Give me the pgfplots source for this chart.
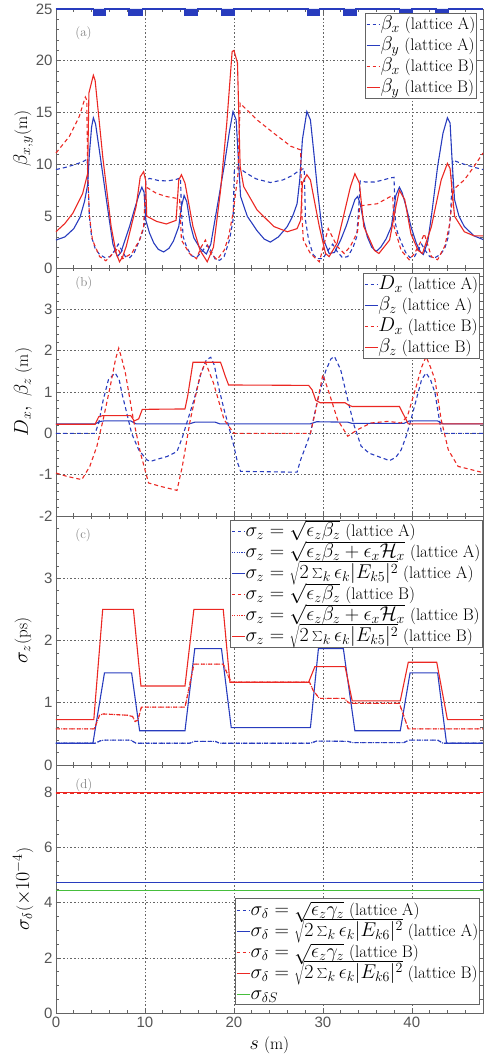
\RequirePackage{fix-cm}
\documentclass[border=0pt]{standalone}
\usepackage{fontspec}
\setsansfont{Liberation Sans}
\usepackage{pgfplots}
\pgfplotsset{compat=1.18}

\definecolor{mblue}{RGB}{40,60,190}
\definecolor{mred}{RGB}{235,40,35}
\definecolor{mgreen}{RGB}{70,190,60}
\definecolor{axgray}{RGB}{100,100,100}
\definecolor{tickgray}{RGB}{85,85,85}

% math in legends and labels is set larger than the surrounding text
\newcommand{\lm}[1]{{\fontsize{20}{22}\selectfont$#1$}}
\newcommand{\sm}[1]{\smash{\fontsize{20}{22}\selectfont$#1$}}
% one legend row: room for the line sample, then the text
\newcommand{\Lrow}[1]{\hspace{13pt} & \rule[-5pt]{0pt}{21pt}\hspace{0.5pt}#1\\}
\newenvironment{Ltab}{\renewcommand{\arraystretch}{0}\begin{tabular}{@{}l@{}l@{}}}{\end{tabular}}
% line sample of row #2 (counted from 0) in legend node #3
\newcommand{\Lline}[3]{\draw[#1] ([xshift=1.5pt, yshift=-11.65pt-#2*21pt]#3.north west) -- ++(13pt,0pt);}

\tikzset{
  tag/.style={font=\fontsize{13}{15}\selectfont, text=gray, anchor=west},
  legbox/.style={draw=axgray, line width=0.6pt, fill=white, inner xsep=1.5pt, inner ysep=0.5pt,
    font=\fontsize{16.8}{18}\selectfont},
  LsA/.style={mblue, line width=1.1pt},
  LdA/.style={mblue, line width=1.1pt, dash pattern=on 3.5pt off 2.5pt},
  LoA/.style={mblue, line width=1.1pt, dash pattern=on 1.1pt off 1.3pt},
  LsB/.style={mred, line width=1.1pt},
  LdB/.style={mred, line width=1.1pt, dash pattern=on 3.5pt off 2.5pt},
  LoB/.style={mred, line width=1.1pt, dash pattern=on 1.1pt off 1.3pt},
  LsG/.style={mgreen, line width=1.1pt},
}

\pgfplotsset{
  sA/.style={color=mblue, line width=1.1pt, solid},
  dA/.style={color=mblue, line width=1.1pt, dash pattern=on 4pt off 3pt},
  oA/.style={color=mblue, line width=1.1pt, dash pattern=on 1pt off 1.6pt},
  sB/.style={color=mred, line width=1.1pt, solid},
  dB/.style={color=mred, line width=1.1pt, dash pattern=on 4pt off 3pt},
  oB/.style={color=mred, line width=1.1pt, dash pattern=on 1pt off 1.6pt},
  sG/.style={color=mgreen, line width=1.1pt, solid},
  panel/.style={
    scale only axis, width=427pt,
    xmin=0, xmax=48,
    xtick={0,10,20,30,40},
    minor xtick={2,4,6,8,12,14,16,18,22,24,26,28,32,34,36,38,42,44,46},
    tick align=inside, major tick length=5pt, minor tick length=3pt,
    xmajorgrids, ymajorgrids,
    major grid style={black!60, dash pattern=on 1.6pt off 2pt, line width=0.6pt},
    axis line style={axgray, line width=0.6pt},
    tick style={axgray, line width=0.6pt},
    tick label style={font=\fontsize{15}{18}\selectfont\sffamily, text=tickgray},
    /pgf/number format/assume math mode=true,
    ylabel style={font=\fontsize{17}{19}\selectfont, at={(axis description cs:-0.077,0.5)}, anchor=center},
  },
}

\begin{document}
\begin{tikzpicture}
\useasboundingbox (-56pt,9pt) rectangle (428pt,-1048pt);

% ---------------- (a) beta functions ----------------
\begin{axis}[panel, at={(0pt,0pt)}, anchor=north west, height=259pt,
  ymin=0, ymax=25, ytick={0,5,...,25}, minor ytick={1,...,24},
  xticklabels={}, ylabel={\lm{\beta_{x,y}}(m)}, clip=false]
% magnet layout along the top edge
\addplot[mblue, fill=mblue, line width=1.5pt] coordinates {
 (0,25) (4.2,25) (4.2,24.35) (5.5,24.35) (5.5,25)
 (8.2,25) (8.2,24.35) (9.7,24.35) (9.7,25)
 (14.5,25) (14.5,24.35) (15.9,24.35) (15.9,25)
 (18.6,25) (18.6,24.35) (20.0,24.35) (20.0,25)
 (28.3,25) (28.3,24.35) (29.6,24.35) (29.6,25)
 (32.4,25) (32.4,24.35) (33.7,24.35) (33.7,25)
 (38.6,25) (38.6,24.35) (40.0,24.35) (40.0,25)
 (42.7,25) (42.7,24.35) (44.1,24.35) (44.1,25) (48,25)};
\addplot[dA] coordinates {
 (0,9.5) (1,9.7) (2,9.95) (3,10.25) (3.5,10.5) (3.62,8.0) (3.75,5.0) (4.0,3.0)
 (4.4,1.9) (4.9,1.3) (5.5,1.0) (6.1,1.1) (6.6,1.7) (7.0,2.3) (7.4,1.7) (7.8,1.1)
 (8.3,1.0) (8.8,1.5) (9.3,2.5) (9.7,3.4) (9.95,4.3) (10.1,8.4) (10.5,8.65)
 (11.5,8.45) (12.5,8.4) (13.5,8.55) (14.0,8.7) (14.1,5.5) (14.3,3.0) (14.7,2.0)
 (15.2,1.2) (15.8,1.0) (16.4,1.6) (17.0,2.2) (17.4,1.7) (17.9,0.85) (18.4,0.75)
 (18.9,1.1) (19.5,2.7) (19.9,4.6) (20.05,9.5) (20.5,9.7) (21.5,9.1) (22.5,8.6)
 (24.1,8.25) (25.5,8.5) (26.5,8.9) (27.5,9.5) (27.9,9.6) (28.05,4.6) (28.4,2.7)
 (28.9,1.3) (29.4,0.9) (30.0,0.9) (30.5,1.6) (31.1,2.3) (31.6,1.6) (32.2,1.0)
 (32.8,1.1) (33.4,2.0) (33.8,3.0) (34.0,5.5) (34.2,8.4) (34.8,8.3) (35.8,8.3)
 (36.8,8.5) (37.6,8.7) (38.0,8.75) (38.15,4.3) (38.4,3.4) (38.8,2.5) (39.3,1.5)
 (39.8,1.0) (40.3,1.1) (40.7,1.7) (41.1,2.3) (41.5,1.7) (42.0,1.1) (42.6,1.0)
 (43.2,1.3) (43.7,1.9) (44.1,3.0) (44.35,5.0) (44.5,8.0) (44.6,10.4) (45.1,10.25)
 (46.1,9.95) (47.1,9.7) (48,9.5)};
\addplot[sA] coordinates {
 (0,2.7) (1,3.0) (2,3.8) (2.7,4.9) (3.2,6.4) (3.55,8.0) (3.75,11.0) (4.0,13.6)
 (4.2,14.5) (4.45,13.9) (5.0,10.6) (5.5,7.6) (6.0,4.6) (6.4,2.3) (6.9,1.1)
 (7.3,1.5) (7.8,2.8) (8.3,4.1) (8.8,5.6) (9.3,7.0) (9.65,7.8) (9.9,7.3)
 (10.1,4.6) (10.5,3.4) (11.0,2.4) (11.5,1.8) (12.1,1.55) (12.7,1.9) (13.2,2.6)
 (13.8,4.0) (14.1,5.9) (14.4,7.0) (14.7,6.4) (15.1,4.2) (15.5,2.9) (16.2,1.9)
 (16.9,1.35) (17.4,2.3) (18.1,5.8) (18.9,9.8) (19.5,13.2) (19.9,15.1) (20.25,14.3)
 (20.55,9.8) (20.75,6.9) (21.5,5.0) (22.6,3.6) (23.4,2.8) (24.1,2.5) (25.0,3.0)
 (26.0,4.0) (26.6,5.0) (27.1,6.2) (27.4,8.5) (27.7,12.4) (28.2,15.1) (28.6,14.3)
 (29.0,11.0) (29.4,7.5) (29.8,4.5) (30.1,2.7) (30.7,1.4) (31.3,1.5) (32.0,2.7)
 (32.6,4.0) (33.1,5.3) (33.6,6.6) (33.9,6.9) (34.2,6.2) (34.5,4.8) (35.0,3.0)
 (35.5,2.0) (36.0,1.6) (36.5,2.0) (37.1,2.8) (37.7,4.0) (38.2,7.0) (38.6,7.8)
 (38.9,7.3) (39.4,5.8) (39.9,4.0) (40.5,2.4) (41.0,1.5) (41.3,1.3) (41.8,2.6)
 (42.2,5.0) (42.9,9.8) (43.5,13.0) (44.0,14.5) (44.3,14.0) (44.55,10.0) (44.8,6.6)
 (45.3,5.0) (45.9,4.0) (47.0,3.1) (48,2.75)};
\addplot[dB] coordinates {
 (0,11.1) (1.5,12.7) (2.6,14.6) (3.3,16.5) (3.46,16.2) (3.57,9.1) (3.76,5.0)
 (4.1,2.7) (4.9,1.1) (5.6,0.7) (6.4,1.4) (6.95,1.9) (7.5,0.9) (8.5,1.4) (9.4,2.7)
 (9.85,4.0) (10.07,7.85) (11.3,7.2) (12.4,6.9) (13.7,6.7) (13.9,6.6) (14.1,2.7)
 (15.0,1.4) (15.8,0.9) (16.3,2.0) (16.8,2.7) (17.4,1.4) (18.1,0.8) (18.9,1.7)
 (19.4,3.0) (19.9,5.3) (20.45,9.0) (20.7,15.9) (22.6,14.3) (24.5,13.0)
 (26.4,11.75) (27.5,11.4) (27.65,5.0) (27.8,2.7) (28.6,1.4) (29.6,0.6) (30.6,3.8)
 (31.6,2.1) (32.4,1.4) (33.1,2.1) (33.9,3.5) (34.15,6.0) (36.1,6.2) (37.6,6.9)
 (37.85,6.9) (38.0,4.0) (38.8,1.7) (39.7,0.8) (40.3,1.4) (41.1,2.7) (41.4,3.3)
 (42.2,1.1) (42.9,0.8) (43.7,2.1) (44.2,4.0) (44.7,7.6) (45.9,8.5) (47,9.8)
 (48,11.1)};
\addplot[sB] coordinates {
 (0,3.5) (1,4.3) (1.9,5.3) (3.0,7.2) (3.55,9.1) (3.7,16.9) (4.2,18.6) (4.4,18.1)
 (5.26,10.7) (6.2,4.0) (6.77,1.4) (7.14,0.6) (7.5,1.1) (7.9,2.1) (9.0,5.9)
 (9.47,8.8) (9.85,9.3) (10.07,8.5) (10.2,5.0) (11.3,4.5) (12.4,4.25) (13.5,4.6)
 (13.8,8.5) (14.1,9.0) (14.5,8.2) (15.4,4.0) (16.2,1.7) (17.0,0.6) (17.7,2.0)
 (18.5,7.5) (19.2,14.0) (19.8,20.9) (20.0,21.0) (20.4,19.8) (20.7,9.8) (21.1,7.85)
 (22.6,5.6) (24.5,4.0) (26.0,3.5) (27.1,3.8) (27.5,4.6) (27.7,8.2) (28.2,9.0)
 (28.6,8.5) (29.6,4.0) (30.3,1.4) (30.7,1.1) (31.6,2.4) (32.4,5.3) (33.1,7.85)
 (33.6,9.1) (34.1,8.2) (34.6,4.0) (35.8,1.7) (36.3,1.4) (37.5,2.7) (38.2,5.9)
 (38.6,7.5) (39.2,6.6) (39.9,3.3) (40.7,1.7) (41.2,1.4) (42.2,4.0) (43.3,8.5)
 (44.0,10.1) (44.3,9.6) (44.8,5.0) (45.9,3.5) (47.0,3.1) (48,3.1)};
\node[tag] at (rel axis cs:0.037,0.907) {(a)};
\node[legbox, anchor=north east] (legA) at (rel axis cs:0.986,0.985) {\begin{Ltab}
 \Lrow{\sm{\beta_x} (lattice A)}
 \Lrow{\sm{\beta_y} (lattice A)}
 \Lrow{\sm{\beta_x} (lattice B)}
 \Lrow{\sm{\beta_y} (lattice B)}
\end{Ltab}};
\Lline{LdA}{0}{legA} \Lline{LsA}{1}{legA} \Lline{LdB}{2}{legA} \Lline{LsB}{3}{legA}
\end{axis}

% ---------------- (b) dispersion and longitudinal beta ----------------
\begin{axis}[panel, at={(0pt,-259pt)}, anchor=north west, height=248pt,
  ymin=-2, ymax=4, ytick={-2,...,4}, yticklabels={-2,-1,0,1,2,3,},
  minor ytick={-1.8,-1.6,...,3.9},
  xticklabels={}, ylabel={\lm{D_x,\ \beta_z} (m)}]
\addplot[dA] coordinates {
 (0,0) (4.4,0) (4.8,0.25) (5.3,0.8) (5.9,1.3) (6.65,1.46) (7.1,1.3) (7.4,0.98)
 (8.0,0.45) (8.5,0.0) (9.3,-0.4) (10.2,-0.64) (10.6,-0.68) (11.5,-0.62)
 (12.5,-0.56) (13.6,-0.44) (14.2,-0.1) (14.7,0.25) (15.5,0.8) (16.3,1.45)
 (16.9,1.78) (17.4,1.84) (17.8,1.65) (18.3,1.1) (18.9,0.57) (19.5,0.1)
 (20.0,-0.31) (20.4,-0.7) (20.75,-0.92) (27.1,-0.94) (27.5,-0.64) (28.1,-0.3)
 (28.6,0.0) (29.4,0.8) (30.3,1.5) (30.9,1.8) (31.3,1.86) (32.0,1.54) (32.8,0.81)
 (33.5,0.2) (34.3,-0.31) (35.2,-0.48) (36.2,-0.56) (37.5,-0.66) (38.2,-0.58)
 (38.8,-0.4) (39.4,-0.05) (39.9,0.33) (40.7,0.98) (41.1,1.3) (41.6,1.46)
 (42.1,1.3) (42.6,0.98) (43.0,0.45) (43.3,0.05) (43.7,0.0) (48,0)};
\addplot[sA] coordinates {
 (0,0.23) (4.4,0.23) (5.0,0.29) (5.4,0.30) (8.4,0.30) (9.0,0.23) (15.0,0.23)
 (15.6,0.27) (17.9,0.27) (18.4,0.23) (28.6,0.23) (29.3,0.28) (32.8,0.27)
 (33.3,0.24) (39.1,0.24) (39.7,0.30) (42.9,0.30) (43.5,0.23) (48,0.23)};
\addplot[dB] coordinates {
 (0,-0.96) (1.2,-1.04) (2.9,-1.12) (3.8,-0.8) (4.6,-0.31) (5.3,0.33) (6.1,1.14)
 (6.7,1.8) (7.05,2.06) (7.4,1.8) (7.8,1.46) (8.7,0.33) (9.5,-0.48) (10.4,-1.2)
 (11.7,-1.28) (13.6,-1.38) (14.2,-0.8) (15.1,0.33) (16.2,1.4) (16.8,1.72)
 (17.7,1.22) (18.9,0.33) (20.0,0.0) (28.6,0.0) (29.2,0.57) (30.0,1.42)
 (30.7,0.98) (31.65,0.33) (32.8,-0.07) (33.9,0.09) (35.4,0.25) (37.3,0.29)
 (38.8,0.25) (39.5,0.41) (40.5,1.14) (41.1,1.6) (41.6,1.86) (42.1,1.6)
 (42.6,1.3) (43.3,0.33) (44.1,-0.4) (45.2,-0.8) (46.7,-0.88) (48,-0.95)};
\addplot[sB] coordinates {
 (0,0.22) (4.4,0.22) (4.8,0.40) (5.3,0.43) (8.4,0.43) (8.8,0.30) (9.3,0.35)
 (9.7,0.58) (14.5,0.59) (14.8,0.9) (15.4,1.72) (18.5,1.72) (19.0,1.4)
 (19.4,1.17) (28.4,1.16) (28.8,1.05) (29.2,0.8) (29.7,0.74) (32.5,0.74)
 (32.9,0.68) (33.3,0.65) (38.6,0.65) (39.6,0.23) (48,0.23)};
\node[tag] at (rel axis cs:0.037,0.94) {(b)};
\node[legbox, anchor=north east] (legB) at (rel axis cs:0.993,0.98) {\begin{Ltab}
 \Lrow{\sm{D_x} (lattice A)}
 \Lrow{\sm{\beta_z} (lattice A)}
 \Lrow{\sm{D_x} (lattice B)}
 \Lrow{\sm{\beta_z} (lattice B)}
\end{Ltab}};
\Lline{LdA}{0}{legB} \Lline{LsA}{1}{legB} \Lline{LdB}{2}{legB} \Lline{LsB}{3}{legB}
\end{axis}

% ---------------- (c) bunch length ----------------
\begin{axis}[panel, at={(0pt,-507pt)}, anchor=north west, height=249pt,
  ymin=0, ymax=4, ytick={0,...,4}, yticklabels={0,1,2,3,},
  minor ytick={0.2,0.4,...,3.9},
  xticklabels={}, ylabel={\lm{\sigma_z}(ps)}]
\addplot[oA] coordinates {
 (0,0.35) (4.4,0.35) (5.0,0.39) (5.4,0.40) (8.4,0.40) (9.0,0.35) (15.0,0.35)
 (15.6,0.38) (17.9,0.38) (18.4,0.35) (28.6,0.35) (29.3,0.385) (32.8,0.38)
 (33.3,0.36) (39.1,0.36) (39.7,0.40) (42.9,0.40) (43.5,0.35) (48,0.35)};
\addplot[dA] coordinates {
 (0,0.35) (4.4,0.35) (5.0,0.39) (5.4,0.40) (8.4,0.40) (9.0,0.35) (15.0,0.35)
 (15.6,0.38) (17.9,0.38) (18.4,0.35) (28.6,0.35) (29.3,0.385) (32.8,0.38)
 (33.3,0.36) (39.1,0.36) (39.7,0.40) (42.9,0.40) (43.5,0.35) (48,0.35)};
\addplot[sA] coordinates {
 (0,0.35) (4.15,0.35) (5.45,1.48) (8.5,1.48) (9.4,0.55) (14.5,0.55) (15.6,1.87)
 (18.6,1.87) (19.7,0.6) (28.6,0.6) (29.5,1.87) (32.3,1.87) (33.6,0.55)
 (38.7,0.55) (39.8,1.48) (42.9,1.48) (43.9,0.35) (48,0.35)};
\addplot[oB] coordinates {
 (0,0.58) (4.3,0.58) (4.9,0.80) (5.3,0.82) (8.0,0.80) (8.6,0.78) (8.9,0.70)
 (9.2,0.72) (9.6,0.93) (14.5,0.93) (14.9,1.2) (15.5,1.62) (18.8,1.62) (19.3,1.45)
 (19.7,1.33) (28.5,1.33) (28.9,1.2) (29.6,1.07) (32.4,1.07) (32.9,1.0)
 (33.3,0.99) (38.6,0.99) (39.6,0.58) (48,0.58)};
\addplot[dB] coordinates {
 (0,0.58) (4.3,0.58) (4.9,0.80) (5.3,0.82) (8.0,0.80) (8.6,0.78) (8.9,0.70)
 (9.2,0.72) (9.6,0.93) (14.5,0.93) (14.9,1.2) (15.5,1.62) (18.8,1.62) (19.3,1.45)
 (19.7,1.33) (28.5,1.33) (28.9,1.2) (29.6,1.07) (32.4,1.07) (32.9,1.0)
 (33.3,0.99) (38.6,0.99) (39.6,0.58) (48,0.58)};
\addplot[sB] coordinates {
 (0,0.73) (4.25,0.73) (5.25,2.5) (8.7,2.5) (9.55,1.27) (14.5,1.27) (15.5,2.5)
 (18.8,2.5) (19.55,1.33) (28.4,1.33) (29.1,1.58) (32.5,1.58) (33.3,1.03)
 (38.7,1.03) (39.6,1.65) (42.8,1.65) (44.0,0.73) (48,0.73)};
\node[tag] at (rel axis cs:0.037,0.924) {(c)};
\node[legbox, anchor=north east] (legC) at (rel axis cs:0.998,0.984) {\begin{Ltab}
 \Lrow{\sm{\sigma_z=\sqrt{\epsilon_z\beta_z}} (lattice A)}
 \Lrow{\sm{\sigma_z=\sqrt{\epsilon_z\beta_z+\epsilon_x\mathcal{H}_x}} (lattice A)}
 \Lrow{\sm{\sigma_z=\sqrt{2\sum_k\epsilon_k|E_{k5}|^2}} (lattice A)}
 \Lrow{\sm{\sigma_z=\sqrt{\epsilon_z\beta_z}} (lattice B)}
 \Lrow{\sm{\sigma_z=\sqrt{\epsilon_z\beta_z+\epsilon_x\mathcal{H}_x}} (lattice B)}
 \Lrow{\sm{\sigma_z=\sqrt{2\sum_k\epsilon_k|E_{k5}|^2}} (lattice B)}
\end{Ltab}};
\Lline{LdA}{0}{legC} \Lline{LoA}{1}{legC} \Lline{LsA}{2}{legC}
\Lline{LdB}{3}{legC} \Lline{LoB}{4}{legC} \Lline{LsB}{5}{legC}
\end{axis}

% ---------------- (d) energy spread ----------------
\begin{axis}[panel, at={(0pt,-756pt)}, anchor=north west, height=248pt,
  ymin=0, ymax=9, ytick={0,2,...,8}, minor ytick={0.5,1,...,8.5},
  ylabel={\lm{\sigma_\delta}(\lm{\times10^{-4}})},
  xlabel={\lm{s} (m)},
  xlabel style={font=\fontsize{17}{19}\selectfont, at={(axis description cs:0.5,-0.129)}, anchor=center}]
\addplot[dA] coordinates {(0,4.72) (48,4.72)};
\addplot[sA] coordinates {(0,4.72) (48,4.72)};
\addplot[sB] coordinates {(0,8.0) (48,8.0)};
\addplot[dB] coordinates {(0,7.96) (48,7.96)};
\addplot[sG] coordinates {(0,4.45) (48,4.45)};
\node[tag] at (rel axis cs:0.037,0.919) {(d)};
\node[legbox, anchor=south east] (legD) at (rel axis cs:0.993,0.032) {\begin{Ltab}
 \Lrow{\sm{\sigma_\delta=\sqrt{\epsilon_z\gamma_z}} (lattice A)}
 \Lrow{\sm{\sigma_\delta=\sqrt{2\sum_k\epsilon_k|E_{k6}|^2}} (lattice A)}
 \Lrow{\sm{\sigma_\delta=\sqrt{\epsilon_z\gamma_z}} (lattice B)}
 \Lrow{\sm{\sigma_\delta=\sqrt{2\sum_k\epsilon_k|E_{k6}|^2}} (lattice B)}
 \Lrow{\sm{\sigma_{\delta S}}}
\end{Ltab}};
\Lline{LdA}{0}{legD} \Lline{LsA}{1}{legD} \Lline{LdB}{2}{legD}
\Lline{LsB}{3}{legD} \Lline{LsG}{4}{legD}
\end{axis}
\end{tikzpicture}
\end{document}
